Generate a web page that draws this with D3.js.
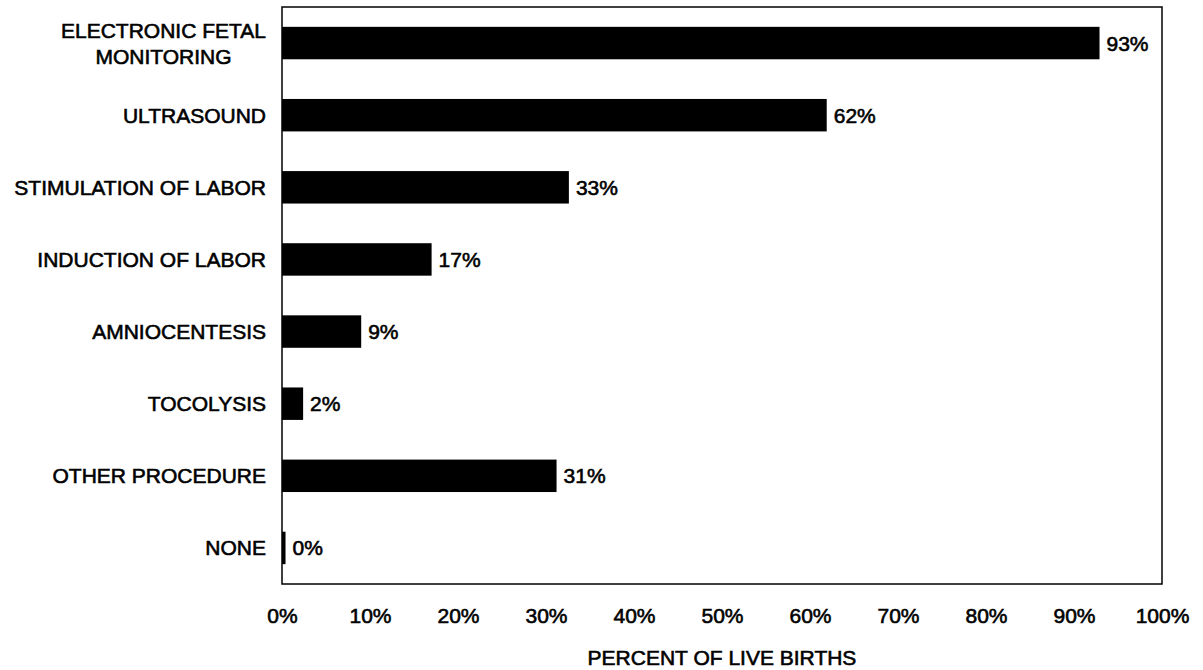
<!DOCTYPE html>
<html>
<head>
<meta charset="utf-8">
<script src="https://cdn.jsdelivr.net/npm/d3@7"></script>
<style>
  body { margin: 0; background: #fff; }
  svg text { font-family: "Liberation Sans", Arial, sans-serif; fill: #000; stroke: #000; stroke-width: 0.6px; }
</style>
</head>
<body>
<svg width="1203" height="670"></svg>
<script>
(() => {
    // procedures, top to bottom
    const categories = [
        "ELECTRONIC FETAL\nMONITORING",
        "ULTRASOUND",
        "STIMULATION OF LABOR",
        "INDUCTION OF LABOR",
        "AMNIOCENTESIS",
        "TOCOLYSIS",
        "OTHER PROCEDURE",
        "NONE"
    ];
    // percent of live births
    const values = [92.9, 61.9, 32.6, 17.0, 9.0, 2.4, 31.2, 0.4];
    const ticks = [0, 10, 20, 30, 40, 50, 60, 70, 80, 90, 100];
    const axisTitle = "PERCENT OF LIVE BIRTHS";

    const svg = d3.select("svg"),
        left = 282, right = 1162, top = 7, bottom = 584,
        fontSize = 21;

    const x = d3.scaleLinear().domain([0, 100]).range([left, right]);
    const y = d3.scaleBand().domain(categories).range([top, bottom])
        .paddingInner(0.55).paddingOuter(0.275);

    // frame
    svg.append("rect")
        .attr("x", left).attr("y", top)
        .attr("width", right - left).attr("height", bottom - top)
        .attr("fill", "none").attr("stroke", "#000").attr("stroke-width", 1.5);

    // bars
    svg.append("g").selectAll("rect")
        .data(categories)
        .join("rect")
        .attr("x", x(0))
        .attr("y", d => y(d))
        .attr("width", (d, i) => Math.max(x(values[i]) - x(0), 1))
        .attr("height", y.bandwidth())
        .attr("fill", "#000");

    // value labels
    svg.append("g").selectAll("text")
        .data(categories)
        .join("text")
        .attr("x", (d, i) => x(values[i]) + 7)
        .attr("y", d => y(d) + y.bandwidth() / 2)
        .attr("dy", "0.36em")
        .attr("font-size", fontSize)
        .text((d, i) => Math.round(values[i]) + "%");

    // category labels (multi-line blocks are centred, block right-aligned)
    const catG = svg.append("g");
    categories.forEach(c => {
        const lines = c.split("\n");
        const lh = 26;
        const t = catG.append("text")
            .attr("font-size", fontSize);
        lines.forEach((l, j) => {
            t.append("tspan")
                .attr("y", y(c) + y.bandwidth() / 2 + (j - (lines.length - 1) / 2) * lh)
                .attr("dy", "0.36em")
                .text(l);
        });
        const w = d3.max(t.selectAll("tspan").nodes(), n => n.getComputedTextLength());
        t.attr("text-anchor", "middle");
        t.selectAll("tspan").attr("x", left - 16 - w / 2);
    });

    // x axis
    const axis = svg.append("g")
        .attr("transform", `translate(0,${bottom})`)
        .call(d3.axisBottom(x).tickValues(ticks).tickSize(0).tickPadding(24)
            .tickFormat(d => d + "%"));
    axis.select(".domain").remove();
    axis.selectAll("text")
        .attr("font-size", fontSize)
        .attr("font-family", "'Liberation Sans', Arial, sans-serif")
        .attr("fill", "#000");

    svg.append("text")
        .attr("x", (left + right) / 2)
        .attr("y", 665)
        .attr("text-anchor", "middle")
        .attr("font-size", fontSize)
        .text(axisTitle);
})();
</script>
</body>
</html>
